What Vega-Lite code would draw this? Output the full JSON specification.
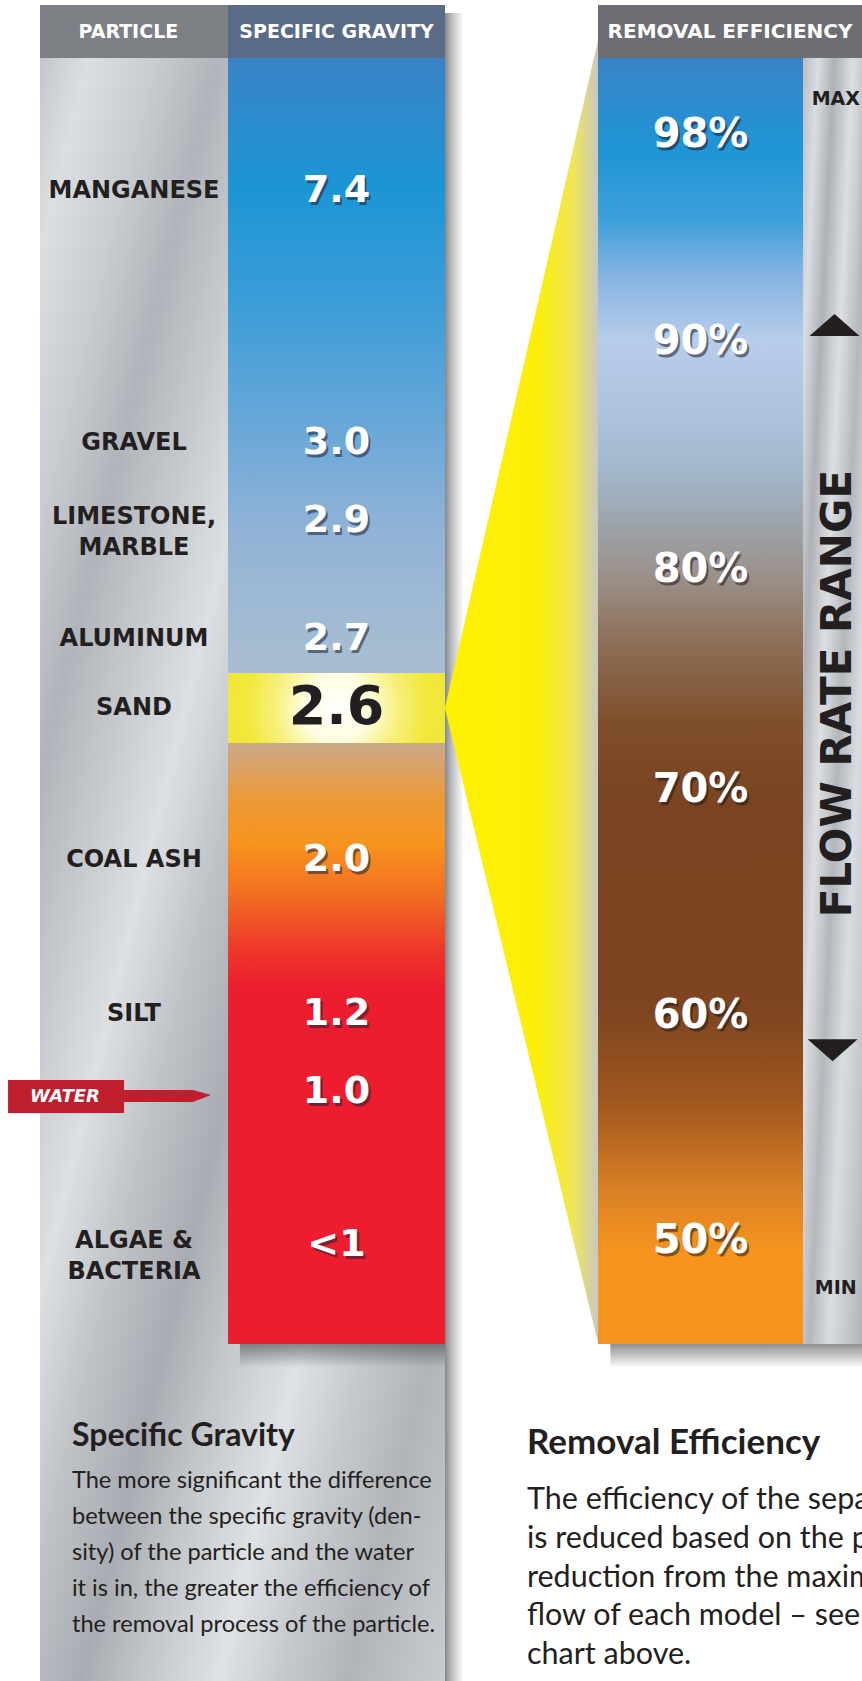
{
  "$schema": "https://vega.github.io/schema/vega-lite/v6.json",
  "width": 862,
  "height": 1681,
  "autosize": {"type": "none"},
  "padding": 0,
  "background": "#ffffff",
  "config": {"view": {"stroke": null}, "axis": {"disable": true}, "legend": {"disable": true}},
  "datasets": {
    "particles": [
      {"order": 1, "particle": "MANGANESE", "sg": "7.4"},
      {"order": 2, "particle": "GRAVEL", "sg": "3.0"},
      {"order": 3, "particle": "LIMESTONE,\nMARBLE", "sg": "2.9"},
      {"order": 4, "particle": "ALUMINUM", "sg": "2.7"},
      {"order": 5, "particle": "SAND", "sg": "2.6"},
      {"order": 6, "particle": "COAL ASH", "sg": "2.0"},
      {"order": 7, "particle": "SILT", "sg": "1.2"},
      {"order": 8, "particle": "WATER", "sg": "1.0"},
      {"order": 9, "particle": "ALGAE &\nBACTERIA", "sg": "<1"}
    ],
    "efficiency": [
      {"eff": 98, "label": "98%"},
      {"eff": 90, "label": "90%"},
      {"eff": 80, "label": "80%"},
      {"eff": 70, "label": "70%"},
      {"eff": 60, "label": "60%"},
      {"eff": 50, "label": "50%"}
    ],
    "flow": [
      {"flow": 1, "label": "MAX"},
      {"flow": 0, "label": "MIN"}
    ],
    "captions": [
      {"block": "Specific Gravity", "line": 0, "text": "Specific Gravity"},
      {"block": "Specific Gravity", "line": 1, "text": "The more significant the difference"},
      {"block": "Specific Gravity", "line": 2, "text": "between the specific gravity (den-"},
      {"block": "Specific Gravity", "line": 3, "text": "sity) of the particle and the water"},
      {"block": "Specific Gravity", "line": 4, "text": "it is in, the greater the efficiency of"},
      {"block": "Specific Gravity", "line": 5, "text": "the removal process of the particle."},
      {"block": "Removal Efficiency", "line": 0, "text": "Removal Efficiency"},
      {"block": "Removal Efficiency", "line": 1, "text": "The efficiency of the separator"},
      {"block": "Removal Efficiency", "line": 2, "text": "is reduced based on the percent"},
      {"block": "Removal Efficiency", "line": 3, "text": "reduction from the maximum"},
      {"block": "Removal Efficiency", "line": 4, "text": "flow of each model – see"},
      {"block": "Removal Efficiency", "line": 5, "text": "chart above."}
    ]
  },
  "layer": [
    {
      "data": {"values": [{}]},
      "mark": {"type": "rect", "fill": {"gradient": "linear", "x1": 0, "y1": 0, "x2": 1, "y2": 0, "stops": [{"offset": 0, "color": "#85888d"}, {"offset": 0.35, "color": "#babcbf"}, {"offset": 1, "color": "#ffffff"}]}},
      "encoding": {
        "x": {"datum": 2, "type": "quantitative", "scale": {"domain": [-1, 0, 1, 2, 3, 4, 5], "range": [8, 40, 228, 445, 598, 803, 866], "nice": false, "zero": false}},
        "x2": {"datum": 2.12},
        "y": {"datum": 0.15, "type": "quantitative", "scale": {"domain": [0, 1, 2, 3], "range": [5, 58, 1344, 1681], "nice": false, "zero": false}},
        "y2": {"datum": 3}
      }
    },
    {
      "data": {"values": [{}]},
      "mark": {"type": "rect", "fill": {"gradient": "linear", "x1": 0, "y1": 0, "x2": 1, "y2": 1, "stops": [{"offset": 0, "color": "#c3c6ca"}, {"offset": 0.06, "color": "#dcdfe2"}, {"offset": 0.14, "color": "#c9ccd0"}, {"offset": 0.22, "color": "#b1b5bb"}, {"offset": 0.3, "color": "#c6c9cd"}, {"offset": 0.38, "color": "#dde0e3"}, {"offset": 0.46, "color": "#c0c3c8"}, {"offset": 0.55, "color": "#a9adb3"}, {"offset": 0.63, "color": "#c4c7cb"}, {"offset": 0.72, "color": "#dfe2e5"}, {"offset": 0.8, "color": "#c5c8cc"}, {"offset": 0.88, "color": "#b1b5ba"}, {"offset": 1, "color": "#c8cbcf"}]}},
      "encoding": {
        "x": {"datum": 0, "type": "quantitative", "scale": {"domain": [-1, 0, 1, 2, 3, 4, 5], "range": [8, 40, 228, 445, 598, 803, 866], "nice": false, "zero": false}},
        "x2": {"datum": 2},
        "y": {"datum": 1, "type": "quantitative", "scale": {"domain": [0, 1, 2, 3], "range": [5, 58, 1344, 1681], "nice": false, "zero": false}},
        "y2": {"datum": 3}
      }
    },
    {
      "data": {"values": [{}]},
      "mark": {"type": "point", "filled": true, "opacity": 1, "strokeWidth": 0, "shape": "M -0.119 0 L 0.119 -1.038 L 0.119 0.987 Z", "size": 1656369, "fill": {"gradient": "linear", "x1": 0, "y1": 0, "x2": 1, "y2": 0, "stops": [{"offset": 0, "color": "#fff200"}, {"offset": 0.62, "color": "#fcee0a"}, {"offset": 0.84, "color": "#f0e55a"}, {"offset": 1, "color": "#c8c8c1"}]}},
      "encoding": {
        "x": {"datum": 2.5, "type": "quantitative", "scale": {"domain": [-1, 0, 1, 2, 3, 4, 5], "range": [8, 40, 228, 445, 598, 803, 866], "nice": false, "zero": false}},
        "y": {"datum": 5, "type": "quantitative", "scale": {"domain": [0, 1, 2, 3, 4, 4.5, 5, 5.5, 6, 7, 8, 9, 10], "range": [58, 191, 443, 521, 639, 673, 708, 743, 860, 1014, 1092, 1245, 1345], "nice": false, "zero": false}}
      }
    },
    {
      "data": {"values": [{}]},
      "mark": {"type": "rect", "fill": {"gradient": "linear", "x1": 0, "y1": 0, "x2": 0, "y2": 1, "stops": [{"offset": 0, "color": "#3983c5"}, {"offset": 0.1, "color": "#1c95d5"}, {"offset": 0.19, "color": "#3b9dd8"}, {"offset": 0.29, "color": "#6aa8d8"}, {"offset": 0.37, "color": "#92b3d6"}, {"offset": 0.45, "color": "#a4bcd2"}, {"offset": 0.478, "color": "#a9bdd0"}, {"offset": 0.532, "color": "#c9a98a"}, {"offset": 0.575, "color": "#ec9a3a"}, {"offset": 0.61, "color": "#f7941d"}, {"offset": 0.65, "color": "#f36f22"}, {"offset": 0.69, "color": "#ef3b2a"}, {"offset": 0.725, "color": "#ed1c2e"}, {"offset": 1, "color": "#ed1c2e"}]}},
      "encoding": {
        "x": {"datum": 1, "type": "quantitative", "scale": {"domain": [-1, 0, 1, 2, 3, 4, 5], "range": [8, 40, 228, 445, 598, 803, 866], "nice": false, "zero": false}},
        "x2": {"datum": 2},
        "y": {"datum": 1, "type": "quantitative", "scale": {"domain": [0, 1, 2, 3], "range": [5, 58, 1344, 1681], "nice": false, "zero": false}},
        "y2": {"datum": 2}
      }
    },
    {
      "data": {"values": [{}]},
      "mark": {"type": "rect", "fill": {"gradient": "linear", "x1": 0, "y1": 0, "x2": 0, "y2": 1, "stops": [{"offset": 0, "color": "rgba(80,84,90,0.65)"}, {"offset": 1, "color": "rgba(80,84,90,0)"}]}},
      "encoding": {
        "x": {"datum": 1.055, "type": "quantitative", "scale": {"domain": [-1, 0, 1, 2, 3, 4, 5], "range": [8, 40, 228, 445, 598, 803, 866], "nice": false, "zero": false}},
        "x2": {"datum": 2},
        "y": {"datum": 2, "type": "quantitative", "scale": {"domain": [0, 1, 2, 3], "range": [5, 58, 1344, 1681], "nice": false, "zero": false}},
        "y2": {"datum": 2.07}
      }
    },
    {
      "data": {"values": [{}]},
      "mark": {"type": "rect", "fill": {"gradient": "radial", "x1": 0.5, "y1": 0.5, "r1": 0, "x2": 0.5, "y2": 0.5, "r2": 0.6, "stops": [{"offset": 0, "color": "#ffffff"}, {"offset": 0.25, "color": "#fffde2"}, {"offset": 0.48, "color": "#f7f07a"}, {"offset": 0.7, "color": "#f2e83a"}, {"offset": 1, "color": "#f1e636"}]}},
      "encoding": {
        "x": {"datum": 1, "type": "quantitative", "scale": {"domain": [-1, 0, 1, 2, 3, 4, 5], "range": [8, 40, 228, 445, 598, 803, 866], "nice": false, "zero": false}},
        "x2": {"datum": 2},
        "y": {"datum": 4.5, "type": "quantitative", "scale": {"domain": [0, 1, 2, 3, 4, 4.5, 5, 5.5, 6, 7, 8, 9, 10], "range": [58, 191, 443, 521, 639, 673, 708, 743, 860, 1014, 1092, 1245, 1345], "nice": false, "zero": false}},
        "y2": {"datum": 5.5}
      }
    },
    {
      "data": {"values": [{}]},
      "mark": {"type": "rect", "fill": "#7c7f84"},
      "encoding": {
        "x": {"datum": 0, "type": "quantitative", "scale": {"domain": [-1, 0, 1, 2, 3, 4, 5], "range": [8, 40, 228, 445, 598, 803, 866], "nice": false, "zero": false}},
        "x2": {"datum": 1},
        "y": {"datum": 0, "type": "quantitative", "scale": {"domain": [0, 1, 2, 3], "range": [5, 58, 1344, 1681], "nice": false, "zero": false}},
        "y2": {"datum": 1}
      }
    },
    {
      "data": {"values": [{}]},
      "mark": {"type": "rect", "fill": "#5a6b88"},
      "encoding": {
        "x": {"datum": 1, "type": "quantitative", "scale": {"domain": [-1, 0, 1, 2, 3, 4, 5], "range": [8, 40, 228, 445, 598, 803, 866], "nice": false, "zero": false}},
        "x2": {"datum": 2},
        "y": {"datum": 0, "type": "quantitative", "scale": {"domain": [0, 1, 2, 3], "range": [5, 58, 1344, 1681], "nice": false, "zero": false}},
        "y2": {"datum": 1}
      }
    },
    {
      "data": {"values": [{}]},
      "mark": {"type": "rect", "fill": {"gradient": "linear", "x1": 0, "y1": 0, "x2": 0, "y2": 1, "stops": [{"offset": 0, "color": "#3a84c6"}, {"offset": 0.07, "color": "#1e95d5"}, {"offset": 0.125, "color": "#3ca0da"}, {"offset": 0.17, "color": "#86b4e2"}, {"offset": 0.22, "color": "#b8cdea"}, {"offset": 0.28, "color": "#adc2dc"}, {"offset": 0.32, "color": "#a3b7cc"}, {"offset": 0.36, "color": "#9da5ad"}, {"offset": 0.405, "color": "#9b8f87"}, {"offset": 0.455, "color": "#8d6f57"}, {"offset": 0.52, "color": "#7e4d29"}, {"offset": 0.58, "color": "#7a4420"}, {"offset": 0.74, "color": "#7e4520"}, {"offset": 0.81, "color": "#a0561f"}, {"offset": 0.885, "color": "#dc8325"}, {"offset": 0.93, "color": "#f7941d"}, {"offset": 1, "color": "#f7941d"}]}},
      "encoding": {
        "x": {"datum": 3, "type": "quantitative", "scale": {"domain": [-1, 0, 1, 2, 3, 4, 5], "range": [8, 40, 228, 445, 598, 803, 866], "nice": false, "zero": false}},
        "x2": {"datum": 4},
        "y": {"datum": 1, "type": "quantitative", "scale": {"domain": [0, 1, 2, 3], "range": [5, 58, 1344, 1681], "nice": false, "zero": false}},
        "y2": {"datum": 2}
      }
    },
    {
      "data": {"values": [{}]},
      "mark": {"type": "rect", "fill": {"gradient": "linear", "x1": 0, "y1": 0, "x2": 1, "y2": 1, "stops": [{"offset": 0, "color": "#b9bdc2"}, {"offset": 0.12, "color": "#d9dce0"}, {"offset": 0.25, "color": "#aeb2b8"}, {"offset": 0.4, "color": "#dcdfe2"}, {"offset": 0.55, "color": "#b3b7bc"}, {"offset": 0.7, "color": "#d9dce0"}, {"offset": 0.85, "color": "#c4c7cb"}, {"offset": 1, "color": "#a9adb3"}]}},
      "encoding": {
        "x": {"datum": 4, "type": "quantitative", "scale": {"domain": [-1, 0, 1, 2, 3, 4, 5], "range": [8, 40, 228, 445, 598, 803, 866], "nice": false, "zero": false}},
        "x2": {"datum": 5},
        "y": {"datum": 1, "type": "quantitative", "scale": {"domain": [0, 1, 2, 3], "range": [5, 58, 1344, 1681], "nice": false, "zero": false}},
        "y2": {"datum": 2}
      }
    },
    {
      "data": {"values": [{}]},
      "mark": {"type": "rect", "fill": {"gradient": "linear", "x1": 0, "y1": 0, "x2": 0, "y2": 1, "stops": [{"offset": 0, "color": "rgba(70,70,72,0.6)"}, {"offset": 1, "color": "rgba(70,70,72,0)"}]}},
      "encoding": {
        "x": {"datum": 3.06, "type": "quantitative", "scale": {"domain": [-1, 0, 1, 2, 3, 4, 5], "range": [8, 40, 228, 445, 598, 803, 866], "nice": false, "zero": false}},
        "x2": {"datum": 5},
        "y": {"datum": 2, "type": "quantitative", "scale": {"domain": [0, 1, 2, 3], "range": [5, 58, 1344, 1681], "nice": false, "zero": false}},
        "y2": {"datum": 2.07}
      }
    },
    {
      "data": {"values": [{}]},
      "mark": {"type": "rect", "fill": "#6d6e73"},
      "encoding": {
        "x": {"datum": 3, "type": "quantitative", "scale": {"domain": [-1, 0, 1, 2, 3, 4, 5], "range": [8, 40, 228, 445, 598, 803, 866], "nice": false, "zero": false}},
        "x2": {"datum": 5},
        "y": {"datum": 0, "type": "quantitative", "scale": {"domain": [0, 1, 2, 3], "range": [5, 58, 1344, 1681], "nice": false, "zero": false}},
        "y2": {"datum": 1}
      }
    },
    {
      "data": {"values": [{}]},
      "mark": {"type": "text", "text": "PARTICLE", "font": "DejaVu Sans", "fontWeight": "bold", "fontSize": 19, "fill": "#ffffff", "align": "center", "baseline": "middle"},
      "encoding": {
        "x": {"datum": 0.47, "type": "quantitative", "scale": {"domain": [-1, 0, 1, 2, 3, 4, 5], "range": [8, 40, 228, 445, 598, 803, 866], "nice": false, "zero": false}},
        "y": {"datum": 0.5, "type": "quantitative", "scale": {"domain": [0, 1, 2, 3], "range": [5, 58, 1344, 1681], "nice": false, "zero": false}}
      }
    },
    {
      "data": {"values": [{}]},
      "mark": {"type": "text", "text": "SPECIFIC GRAVITY", "font": "DejaVu Sans", "fontWeight": "bold", "fontSize": 19, "fill": "#ffffff", "align": "center", "baseline": "middle"},
      "encoding": {
        "x": {"datum": 1.5, "type": "quantitative", "scale": {"domain": [-1, 0, 1, 2, 3, 4, 5], "range": [8, 40, 228, 445, 598, 803, 866], "nice": false, "zero": false}},
        "y": {"datum": 0.5, "type": "quantitative", "scale": {"domain": [0, 1, 2, 3], "range": [5, 58, 1344, 1681], "nice": false, "zero": false}}
      }
    },
    {
      "data": {"values": [{}]},
      "mark": {"type": "text", "text": "REMOVAL EFFICIENCY", "font": "DejaVu Sans", "fontWeight": "bold", "fontSize": 20, "fill": "#ffffff", "align": "center", "baseline": "middle"},
      "encoding": {
        "x": {"datum": 3.644, "type": "quantitative", "scale": {"domain": [-1, 0, 1, 2, 3, 4, 5], "range": [8, 40, 228, 445, 598, 803, 866], "nice": false, "zero": false}},
        "y": {"datum": 0.5, "type": "quantitative", "scale": {"domain": [0, 1, 2, 3], "range": [5, 58, 1344, 1681], "nice": false, "zero": false}}
      }
    },
    {
      "data": {"name": "particles"},
      "transform": [{"filter": "datum.particle !== 'WATER' && datum.order !== 3 && datum.order !== 9"}],
      "mark": {"type": "text", "font": "DejaVu Sans", "fontWeight": "bold", "fontSize": 24, "fill": "#231f20", "align": "center", "baseline": "middle"},
      "encoding": {
        "x": {"datum": 0.5, "type": "quantitative", "scale": {"domain": [-1, 0, 1, 2, 3, 4, 5], "range": [8, 40, 228, 445, 598, 803, 866], "nice": false, "zero": false}},
        "y": {"field": "order", "type": "quantitative", "scale": {"domain": [0, 1, 2, 3, 4, 4.5, 5, 5.5, 6, 7, 8, 9, 10], "range": [58, 191, 443, 521, 639, 673, 708, 743, 860, 1014, 1092, 1245, 1345], "nice": false, "zero": false}},
        "text": {"field": "particle"}
      }
    },
    {
      "data": {"name": "particles"},
      "transform": [{"filter": "datum.order === 3 || datum.order === 9"}],
      "mark": {"type": "text", "font": "DejaVu Sans", "fontWeight": "bold", "fontSize": 24, "fill": "#231f20", "align": "center", "baseline": "middle", "lineBreak": "\n", "lineHeight": 31, "dy": -4},
      "encoding": {
        "x": {"datum": 0.5, "type": "quantitative", "scale": {"domain": [-1, 0, 1, 2, 3, 4, 5], "range": [8, 40, 228, 445, 598, 803, 866], "nice": false, "zero": false}},
        "y": {"field": "order", "type": "quantitative", "scale": {"domain": [0, 1, 2, 3, 4, 4.5, 5, 5.5, 6, 7, 8, 9, 10], "range": [58, 191, 443, 521, 639, 673, 708, 743, 860, 1014, 1092, 1245, 1345], "nice": false, "zero": false}},
        "text": {"field": "particle"}
      }
    },
    {
      "data": {"name": "particles"},
      "transform": [{"filter": "datum.particle !== 'SAND'"}],
      "mark": {"type": "text", "font": "DejaVu Sans", "fontWeight": "bold", "fontSize": 38, "fill": "#1a2236", "opacity": 0.55, "dx": 2, "dy": 3, "align": "center", "baseline": "middle"},
      "encoding": {
        "x": {"datum": 1.5, "type": "quantitative", "scale": {"domain": [-1, 0, 1, 2, 3, 4, 5], "range": [8, 40, 228, 445, 598, 803, 866], "nice": false, "zero": false}},
        "y": {"field": "order", "type": "quantitative", "scale": {"domain": [0, 1, 2, 3, 4, 4.5, 5, 5.5, 6, 7, 8, 9, 10], "range": [58, 191, 443, 521, 639, 673, 708, 743, 860, 1014, 1092, 1245, 1345], "nice": false, "zero": false}},
        "text": {"field": "sg"}
      }
    },
    {
      "data": {"name": "particles"},
      "mark": {"type": "text", "font": "DejaVu Sans", "fontWeight": "bold", "align": "center", "baseline": "middle"},
      "encoding": {
        "x": {"datum": 1.5, "type": "quantitative", "scale": {"domain": [-1, 0, 1, 2, 3, 4, 5], "range": [8, 40, 228, 445, 598, 803, 866], "nice": false, "zero": false}},
        "y": {"field": "order", "type": "quantitative", "scale": {"domain": [0, 1, 2, 3, 4, 4.5, 5, 5.5, 6, 7, 8, 9, 10], "range": [58, 191, 443, 521, 639, 673, 708, 743, 860, 1014, 1092, 1245, 1345], "nice": false, "zero": false}},
        "text": {"field": "sg"},
        "size": {"condition": {"test": "datum.particle === 'SAND'", "value": 54}, "value": 38},
        "color": {"condition": {"test": "datum.particle === 'SAND'", "value": "#231f20"}, "value": "#ffffff"}
      }
    },
    {
      "data": {"name": "particles"},
      "transform": [{"filter": "datum.particle === 'WATER'"}],
      "mark": {"type": "point", "filled": true, "opacity": 1, "strokeWidth": 0, "fill": "#bf1e2d", "shape": "M -1 -0.119 L 0.143 -0.119 L 0.143 -0.02 L 0.82 -0.02 L 1 0.03 L 0.82 0.099 L 0.143 0.099 L 0.143 0.207 L -1 0.207 Z", "size": 41209},
      "encoding": {
        "x": {"datum": 0.37, "type": "quantitative", "scale": {"domain": [-1, 0, 1, 2, 3, 4, 5], "range": [8, 40, 228, 445, 598, 803, 866], "nice": false, "zero": false}},
        "y": {"field": "order", "type": "quantitative", "scale": {"domain": [0, 1, 2, 3, 4, 4.5, 5, 5.5, 6, 7, 8, 9, 10], "range": [58, 191, 443, 521, 639, 673, 708, 743, 860, 1014, 1092, 1245, 1345], "nice": false, "zero": false}}
      }
    },
    {
      "data": {"name": "particles"},
      "transform": [{"filter": "datum.particle === 'WATER'"}],
      "mark": {"type": "text", "font": "DejaVu Sans", "fontWeight": "bold", "fontStyle": "italic", "fontSize": 18, "fill": "#ffffff", "align": "center", "baseline": "middle", "dy": 5},
      "encoding": {
        "x": {"datum": 0.133, "type": "quantitative", "scale": {"domain": [-1, 0, 1, 2, 3, 4, 5], "range": [8, 40, 228, 445, 598, 803, 866], "nice": false, "zero": false}},
        "y": {"field": "order", "type": "quantitative", "scale": {"domain": [0, 1, 2, 3, 4, 4.5, 5, 5.5, 6, 7, 8, 9, 10], "range": [58, 191, 443, 521, 639, 673, 708, 743, 860, 1014, 1092, 1245, 1345], "nice": false, "zero": false}},
        "text": {"field": "particle"}
      }
    },
    {
      "data": {"name": "efficiency"},
      "mark": {"type": "text", "font": "DejaVu Sans", "fontWeight": "bold", "fontSize": 40, "fill": "#1f1a22", "opacity": 0.55, "dx": 2, "dy": 3, "align": "center", "baseline": "middle"},
      "encoding": {
        "x": {"datum": 3.5, "type": "quantitative", "scale": {"domain": [-1, 0, 1, 2, 3, 4, 5], "range": [8, 40, 228, 445, 598, 803, 866], "nice": false, "zero": false}},
        "y": {"field": "eff", "type": "quantitative", "scale": {"domain": [50, 60, 70, 80, 90, 98], "range": [1241, 1016, 790, 570, 342, 135], "nice": false, "zero": false}},
        "text": {"field": "label"}
      }
    },
    {
      "data": {"name": "efficiency"},
      "mark": {"type": "text", "font": "DejaVu Sans", "fontWeight": "bold", "fontSize": 40, "fill": "#ffffff", "align": "center", "baseline": "middle"},
      "encoding": {
        "x": {"datum": 3.5, "type": "quantitative", "scale": {"domain": [-1, 0, 1, 2, 3, 4, 5], "range": [8, 40, 228, 445, 598, 803, 866], "nice": false, "zero": false}},
        "y": {"field": "eff", "type": "quantitative", "scale": {"domain": [50, 60, 70, 80, 90, 98], "range": [1241, 1016, 790, 570, 342, 135], "nice": false, "zero": false}},
        "text": {"field": "label"}
      }
    },
    {
      "data": {"name": "flow"},
      "mark": {"type": "text", "font": "DejaVu Sans", "fontWeight": "bold", "fontSize": 19, "fill": "#231f20", "align": "center", "baseline": "middle"},
      "encoding": {
        "x": {"datum": 4.52, "type": "quantitative", "scale": {"domain": [-1, 0, 1, 2, 3, 4, 5], "range": [8, 40, 228, 445, 598, 803, 866], "nice": false, "zero": false}},
        "y": {"field": "flow", "type": "quantitative", "scale": {"domain": [0, 1], "range": [1288, 99], "nice": false, "zero": false}},
        "text": {"field": "label"}
      }
    },
    {
      "data": {"values": [{}]},
      "mark": {"type": "point", "filled": true, "opacity": 1, "strokeWidth": 0, "fill": "#231f20", "shape": "M -1 0.44 L 1 0.44 L 0 -0.44 Z", "size": 2500},
      "encoding": {
        "x": {"datum": 4.5, "type": "quantitative", "scale": {"domain": [-1, 0, 1, 2, 3, 4, 5], "range": [8, 40, 228, 445, 598, 803, 866], "nice": false, "zero": false}},
        "y": {"datum": 0.81, "type": "quantitative", "scale": {"domain": [0, 1], "range": [1288, 99], "nice": false, "zero": false}}
      }
    },
    {
      "data": {"values": [{}]},
      "mark": {"type": "point", "filled": true, "opacity": 1, "strokeWidth": 0, "fill": "#231f20", "shape": "M -1 -0.44 L 1 -0.44 L 0 0.44 Z", "size": 2500},
      "encoding": {
        "x": {"datum": 4.47, "type": "quantitative", "scale": {"domain": [-1, 0, 1, 2, 3, 4, 5], "range": [8, 40, 228, 445, 598, 803, 866], "nice": false, "zero": false}},
        "y": {"datum": 0.2, "type": "quantitative", "scale": {"domain": [0, 1], "range": [1288, 99], "nice": false, "zero": false}}
      }
    },
    {
      "data": {"values": [{}]},
      "mark": {"type": "text", "text": "FLOW RATE RANGE", "angle": 270, "font": "DejaVu Sans", "fontWeight": "bold", "fontSize": 42, "fill": "#231f20", "align": "center", "baseline": "middle"},
      "encoding": {
        "x": {"datum": 4.55, "type": "quantitative", "scale": {"domain": [-1, 0, 1, 2, 3, 4, 5], "range": [8, 40, 228, 445, 598, 803, 866], "nice": false, "zero": false}},
        "y": {"datum": 0.5, "type": "quantitative", "scale": {"domain": [0, 1], "range": [1288, 99], "nice": false, "zero": false}}
      }
    },
    {
      "data": {"name": "captions"},
      "transform": [{"filter": "datum.block === 'Specific Gravity' && datum.line === 0"}],
      "mark": {"type": "text", "font": "Lato", "fontWeight": "bold", "fontSize": 32, "fill": "#231f20", "align": "left", "baseline": "alphabetic"},
      "encoding": {
        "x": {"datum": 0.17, "type": "quantitative", "scale": {"domain": [-1, 0, 1, 2, 3, 4, 5], "range": [8, 40, 228, 445, 598, 803, 866], "nice": false, "zero": false}},
        "y": {"field": "line", "type": "quantitative", "scale": {"domain": [0, 1, 5], "range": [1446, 1488, 1632], "nice": false, "zero": false}},
        "text": {"field": "text"}
      }
    },
    {
      "data": {"name": "captions"},
      "transform": [{"filter": "datum.block === 'Specific Gravity' && datum.line > 0"}],
      "mark": {"type": "text", "font": "Lato", "fontSize": 23.6, "fill": "#231f20", "align": "left", "baseline": "alphabetic"},
      "encoding": {
        "x": {"datum": 0.17, "type": "quantitative", "scale": {"domain": [-1, 0, 1, 2, 3, 4, 5], "range": [8, 40, 228, 445, 598, 803, 866], "nice": false, "zero": false}},
        "y": {"field": "line", "type": "quantitative", "scale": {"domain": [0, 1, 5], "range": [1446, 1488, 1632], "nice": false, "zero": false}},
        "text": {"field": "text"}
      }
    },
    {
      "data": {"name": "captions"},
      "transform": [{"filter": "datum.block === 'Removal Efficiency' && datum.line === 0"}],
      "mark": {"type": "text", "font": "Lato", "fontWeight": "bold", "fontSize": 35, "fill": "#231f20", "align": "left", "baseline": "alphabetic"},
      "encoding": {
        "x": {"datum": 2.536, "type": "quantitative", "scale": {"domain": [-1, 0, 1, 2, 3, 4, 5], "range": [8, 40, 228, 445, 598, 803, 866], "nice": false, "zero": false}},
        "y": {"field": "line", "type": "quantitative", "scale": {"domain": [0, 1, 5], "range": [1454, 1509, 1664], "nice": false, "zero": false}},
        "text": {"field": "text"}
      }
    },
    {
      "data": {"name": "captions"},
      "transform": [{"filter": "datum.block === 'Removal Efficiency' && datum.line > 0"}],
      "mark": {"type": "text", "font": "Lato", "fontSize": 30.5, "fill": "#231f20", "align": "left", "baseline": "alphabetic", "clip": true},
      "encoding": {
        "x": {"datum": 2.536, "type": "quantitative", "scale": {"domain": [-1, 0, 1, 2, 3, 4, 5], "range": [8, 40, 228, 445, 598, 803, 866], "nice": false, "zero": false}},
        "y": {"field": "line", "type": "quantitative", "scale": {"domain": [0, 1, 5], "range": [1454, 1509, 1664], "nice": false, "zero": false}},
        "text": {"field": "text"}
      }
    }
  ],
  "resolve": {"scale": {"x": "independent", "y": "independent"}}
}
